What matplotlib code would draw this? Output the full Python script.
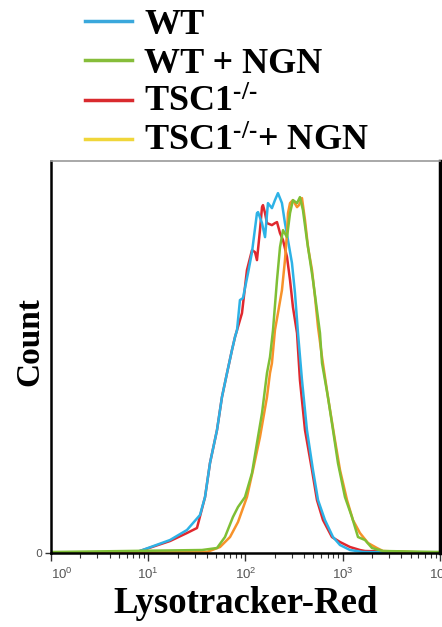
import matplotlib
matplotlib.use("Agg")
import matplotlib.pyplot as plt
import numpy as np
from matplotlib.lines import Line2D
from matplotlib.font_manager import FontProperties

plt.rcParams["mathtext.fontset"] = "custom"
plt.rcParams["mathtext.rm"] = "Liberation Serif:bold"
plt.rcParams["mathtext.it"] = "Liberation Serif:italic:bold"
plt.rcParams["mathtext.sf"] = "Liberation Sans"

# log10 of Lysotracker-Red intensity, and cell counts (arbitrary units)
wt_log = [0, 0.884, 1.224, 1.398, 1.532, 1.584, 1.635, 1.707, 1.758, 1.810,
          1.861, 1.892, 1.913, 1.943, 1.974, 2.026, 2.067, 2.118, 2.129, 2.170,
          2.201, 2.231, 2.272, 2.303, 2.334, 2.375, 2.406, 2.437, 2.478, 2.509,
          2.540, 2.581, 2.632, 2.694, 2.746, 2.817, 2.900, 2.972, 3.075, 3.208, 4.0]
wt_count = [0, 1, 13, 23, 38, 56, 90, 123, 156, 180,
            203, 216, 223, 253, 255, 280, 301, 340, 341, 330,
            316, 350, 345, 353, 360, 350, 330, 313, 290, 260,
            220, 173, 123, 83, 53, 33, 16, 8, 3, 1, 0]

tsc_log = [0, 0.884, 1.224, 1.398, 1.501, 1.584, 1.635, 1.707, 1.758, 1.810,
           1.861, 1.892, 1.964, 2.015, 2.067, 2.098, 2.118, 2.149, 2.170, 2.180,
           2.201, 2.221, 2.272, 2.303, 2.324, 2.355, 2.386, 2.427, 2.458, 2.488,
           2.530, 2.560, 2.612, 2.684, 2.735, 2.797, 2.889, 2.972, 3.075, 3.177,
           3.229, 4.0]
tsc_count = [0, 1, 12, 20, 25, 56, 90, 123, 156, 180,
             203, 216, 240, 283, 303, 301, 293, 323, 346, 348,
             340, 330, 328, 330, 331, 320, 313, 296, 273, 246,
             220, 173, 123, 83, 53, 33, 16, 11, 6, 3,
             2, 0]

wt_ngn_log = [0, 1.553, 1.707, 1.789, 1.871, 1.923, 1.995, 2.067, 2.118, 2.170,
              2.221, 2.252, 2.283, 2.324, 2.355, 2.386, 2.427, 2.458, 2.488, 2.530,
              2.560, 2.591, 2.632, 2.663, 2.694, 2.735, 2.766, 2.787, 2.848, 2.900,
              2.951, 3.023, 3.095, 3.157, 3.229, 3.301, 3.414, 4.0]
wt_ngn_count = [1, 3, 5, 16, 36, 46, 56, 80, 110, 140,
                180, 196, 223, 273, 306, 323, 316, 340, 353, 350,
                356, 343, 313, 293, 273, 243, 220, 190, 156, 123,
                90, 56, 36, 16, 13, 5, 2, 1]

tsc_ngn_log = [0, 1.604, 1.738, 1.841, 1.923, 2.015, 2.077, 2.149, 2.221, 2.252,
               2.272, 2.303, 2.334, 2.375, 2.406, 2.427, 2.437, 2.458, 2.488, 2.530,
               2.550, 2.581, 2.612, 2.643, 2.684, 2.715, 2.746, 2.787, 2.848, 2.920,
               2.972, 3.044, 3.105, 3.177, 3.260, 3.352, 3.414, 4.0]
tsc_ngn_count = [0, 1, 6, 16, 31, 56, 83, 116, 156, 180,
                 190, 223, 240, 263, 293, 320, 340, 350, 353, 346,
                 348, 355, 333, 306, 283, 256, 226, 196, 156, 113,
                 83, 53, 33, 20, 10, 5, 2, 0]

legend_labels = ["WT", "WT + NGN", "TSC1$^{\\mathit{\u2010/\u2010}}$",
                 "TSC1$^{\\mathit{\u2010/\u2010}}$+ NGN"]
legend_colors = ["#3aa8dc", "#86bd3a", "#d92a2e", "#f0d63a"]
decades = [1, 10, 100, 1000, 10000]
decade_labels = [r"$\mathsf{10^{%d}}$" % i for i in range(5)]

fig = plt.figure(figsize=(4.42, 6.27), dpi=100)
ax = fig.add_axes([0.1154, 0.118, 0.880, 0.625])

ax.plot(np.power(10, tsc_log), tsc_count, color="#e0282e", lw=1.8)
ax.plot(np.power(10, wt_log), wt_count, color="#2db2e6", lw=1.8)
ax.plot(np.power(10, tsc_ngn_log), tsc_ngn_count, color="#f7922a", lw=1.8)
ax.plot(np.power(10, wt_ngn_log), wt_ngn_count, color="#7fbf35", lw=1.8)

ax.set_xscale("log")
ax.set_xlim(1, 1e4)
ax.set_ylim(0, 392)
ax.set_xticks(decades)
ax.set_xticklabels(decade_labels)
ax.get_xticklabels()[0].set_horizontalalignment("left")
ax.set_yticks([0])
ax.set_yticklabels(["0"])
ax.tick_params(axis="x", which="major", length=6, width=1, color="#333333",
               labelsize=9.5, labelcolor="#555555", pad=4)
ax.tick_params(axis="x", which="minor", length=3.5, width=0.8, color="#333333")
ax.tick_params(axis="y", length=4, width=1, color="#333333",
               labelsize=8, labelcolor="#555555", pad=2)

for side in ["left", "bottom"]:
    ax.spines[side].set_linewidth(1.8)
ax.spines["right"].set_linewidth(2.5)
ax.spines["top"].set_color("#999999")
ax.spines["top"].set_linewidth(1.2)

bold_serif = dict(family="Liberation Serif", weight="bold")
fig.text(0.555, 0.022, "Lysotracker-Red", ha="center", va="baseline", fontsize=26.5, **bold_serif)
fig.text(0.068, 0.455, "Count", ha="center", va="center", rotation=90, fontsize=24, **bold_serif)

handles = [Line2D([0], [0], color=c, lw=2.5) for c in legend_colors]
fig.legend(handles, legend_labels, loc="upper left", bbox_to_anchor=(0.192, 0.986),
           frameon=False, prop=FontProperties(family="Liberation Serif", weight="bold", size=26),
           handlelength=1.3, handletextpad=0.35, labelspacing=0.16, borderaxespad=0,
           borderpad=0)

fig.savefig("out.png", dpi=100)
